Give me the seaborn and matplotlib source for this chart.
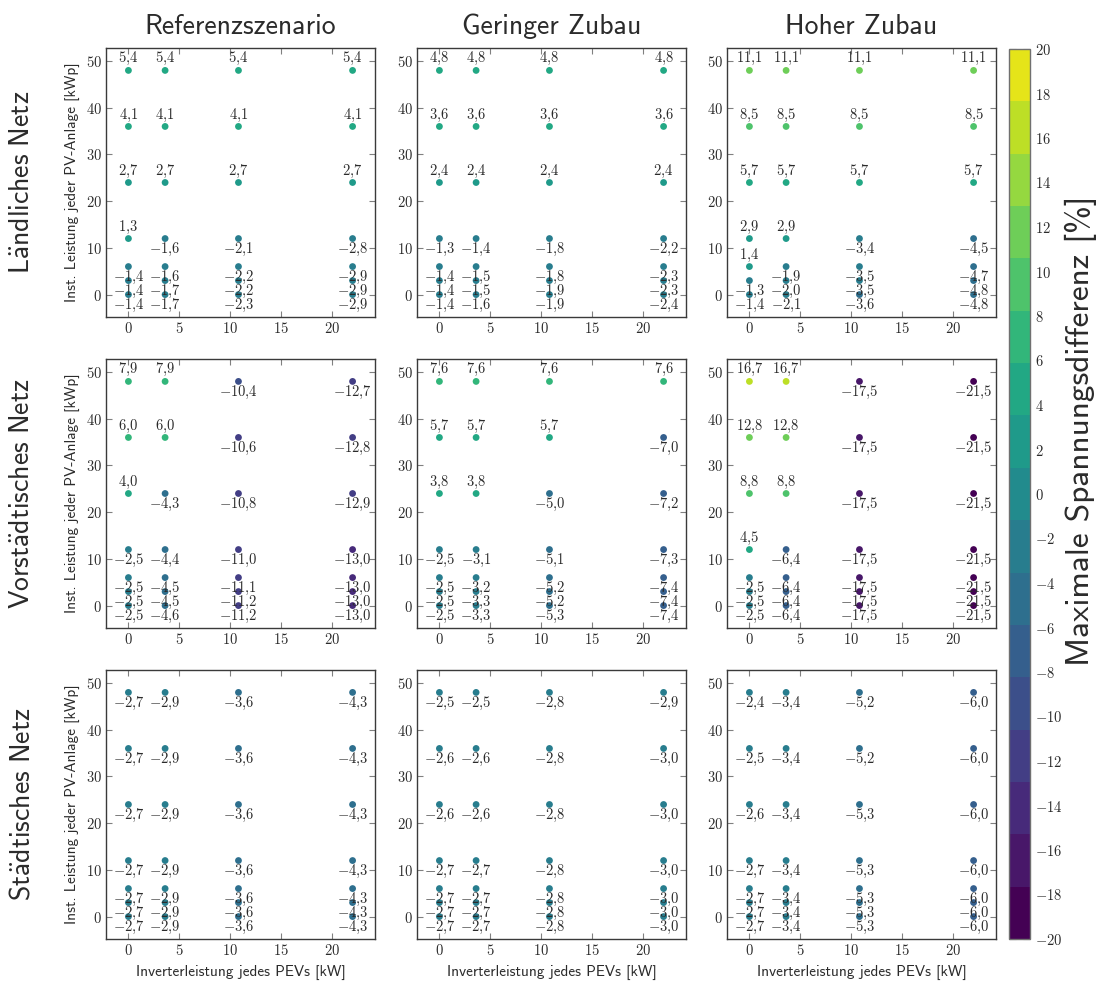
import numpy as np
import pandas as pd
import matplotlib
matplotlib.use("Agg")
import matplotlib.pyplot as plt
from matplotlib.colors import ListedColormap, Normalize
from matplotlib.cm import ScalarMappable
from matplotlib.ticker import FuncFormatter, MultipleLocator
import seaborn as sns

# Inverter power of each PEV [kW] and installed PV power [kWp]
pev_kw = [0, 3.6, 10.8, 22]
pv_kwp = [0, 3, 6, 12, 24, 36, 48]

# Maximum voltage difference [%]; one row per PEV inverter power,
# one entry per installed PV power (ordered as pv_kwp)
laendlich_referenz = [
    [-1.4, -1.4, -1.4, 1.3, 2.7, 4.1, 5.4],
    [-1.7, -1.7, -1.6, -1.6, 2.7, 4.1, 5.4],
    [-2.3, -2.2, -2.2, -2.1, 2.7, 4.1, 5.4],
    [-2.9, -2.9, -2.9, -2.8, 2.7, 4.1, 5.4],
]
laendlich_gering = [
    [-1.4, -1.4, -1.4, -1.3, 2.4, 3.6, 4.8],
    [-1.6, -1.5, -1.5, -1.4, 2.4, 3.6, 4.8],
    [-1.9, -1.9, -1.8, -1.8, 2.4, 3.6, 4.8],
    [-2.4, -2.3, -2.3, -2.2, 2.4, 3.6, 4.8],
]
laendlich_hoch = [
    [-1.4, -1.3, 1.4, 2.9, 5.7, 8.5, 11.1],
    [-2.1, -2.0, -1.9, 2.9, 5.7, 8.5, 11.1],
    [-3.6, -3.5, -3.5, -3.4, 5.7, 8.5, 11.1],
    [-4.8, -4.8, -4.7, -4.5, 5.7, 8.5, 11.1],
]
vorstadt_referenz = [
    [-2.5, -2.5, -2.5, -2.5, 4.0, 6.0, 7.9],
    [-4.6, -4.5, -4.5, -4.4, -4.3, 6.0, 7.9],
    [-11.2, -11.2, -11.1, -11.0, -10.8, -10.6, -10.4],
    [-13.0, -13.0, -13.0, -13.0, -12.9, -12.8, -12.7],
]
vorstadt_gering = [
    [-2.5, -2.5, -2.5, -2.5, 3.8, 5.7, 7.6],
    [-3.3, -3.3, -3.2, -3.1, 3.8, 5.7, 7.6],
    [-5.3, -5.2, -5.2, -5.1, -5.0, 5.7, 7.6],
    [-7.4, -7.4, -7.4, -7.3, -7.2, -7.0, 7.6],
]
vorstadt_hoch = [
    [-2.5, -2.5, -2.5, 4.5, 8.8, 12.8, 16.7],
    [-6.4, -6.4, -6.4, -6.4, 8.8, 12.8, 16.7],
    [-17.5, -17.5, -17.5, -17.5, -17.5, -17.5, -17.5],
    [-21.5, -21.5, -21.5, -21.5, -21.5, -21.5, -21.5],
]
stadt_referenz = [
    [-2.7, -2.7, -2.7, -2.7, -2.7, -2.7, -2.7],
    [-2.9, -2.9, -2.9, -2.9, -2.9, -2.9, -2.9],
    [-3.6, -3.6, -3.6, -3.6, -3.6, -3.6, -3.6],
    [-4.3, -4.3, -4.3, -4.3, -4.3, -4.3, -4.3],
]
stadt_gering = [
    [-2.7, -2.7, -2.7, -2.7, -2.6, -2.6, -2.5],
    [-2.7, -2.7, -2.7, -2.7, -2.6, -2.6, -2.5],
    [-2.8, -2.8, -2.8, -2.8, -2.8, -2.8, -2.8],
    [-3.0, -3.0, -3.0, -3.0, -3.0, -3.0, -2.9],
]
stadt_hoch = [
    [-2.7, -2.7, -2.7, -2.7, -2.6, -2.5, -2.4],
    [-3.4, -3.4, -3.4, -3.4, -3.4, -3.4, -3.4],
    [-5.3, -5.3, -5.3, -5.3, -5.3, -5.2, -5.2],
    [-6.0, -6.0, -6.0, -6.0, -6.0, -6.0, -6.0],
]

scenario_titles = ["Referenzszenario", "Geringer Zubau", "Hoher Zubau"]
# Row titles set in Computer Modern Sans via mathtext, umlauts as accents
grid_titles = [r"$\mathsf{L\ddot{a}ndliches\ Netz}$",
               r"$\mathsf{Vorst\ddot{a}dtisches\ Netz}$",
               r"$\mathsf{St\ddot{a}dtisches\ Netz}$"]
colorbar_label = "Maximale Spannungsdifferenz [%]"
panels = [
    [laendlich_referenz, laendlich_gering, laendlich_hoch],
    [vorstadt_referenz, vorstadt_gering, vorstadt_hoch],
    [stadt_referenz, stadt_gering, stadt_hoch],
]

sns.set_style("ticks")
plt.rcParams["font.family"] = ["cmss10", "DejaVu Sans"]
plt.rcParams["mathtext.fontset"] = "cm"
plt.rcParams["axes.unicode_minus"] = True

text_col = "#2b2b2b"
spine_col = "#3a3a3a"

cmap = ListedColormap(plt.get_cmap("viridis")(np.linspace(0.0, 0.96, 17)))
norm = Normalize(vmin=-20, vmax=20)


def fmt_value(v):
    return "$" + f"{v:.1f}".replace(".", "{,}") + "$"


def fmt_tick(v, _pos=None):
    return f"${v:g}$"


W, H = 1099, 981
fig = plt.figure(figsize=(W / 100, H / 100), dpi=100)

lefts = [106, 417, 727]
tops = [48, 359, 670]
size = 269

for r in range(3):
    for c in range(3):
        ax = fig.add_axes([lefts[c] / W, 1 - (tops[r] + size) / H, size / W, size / H])
        vals = np.array(panels[r][c], dtype=float)
        df = pd.DataFrame({
            "pev": np.repeat(pev_kw, len(pv_kwp)),
            "pv": np.tile(pv_kwp, len(pev_kw)),
            "v": vals.ravel(),
        })
        palette = {v: cmap(norm(v)) for v in df["v"].unique()}
        sns.scatterplot(data=df, x="pev", y="pv", hue="v", palette=palette,
                        legend=False, s=24, linewidth=0, ax=ax, zorder=3)
        for _, row in df.iterrows():
            dy = 8.3 if row["v"] > 0 else -7.8
            ax.annotate(fmt_value(row["v"]), (row["pev"], row["pv"]),
                        xytext=(0, dy), textcoords="offset points",
                        ha="center", va="center", fontsize=10.5,
                        color=text_col, zorder=4)
        ax.set_xlim(-2.2, 24.2)
        ax.set_ylim(-4.8, 52.8)
        ax.xaxis.set_major_locator(MultipleLocator(5))
        ax.yaxis.set_major_locator(MultipleLocator(10))
        ax.xaxis.set_major_formatter(FuncFormatter(fmt_tick))
        ax.yaxis.set_major_formatter(FuncFormatter(fmt_tick))
        ax.tick_params(direction="in", top=True, right=True, length=4,
                       width=0.8, color="#808080", labelsize=10.5,
                       labelcolor=text_col, pad=3)
        for sp in ax.spines.values():
            sp.set_color(spine_col)
            sp.set_linewidth(1.0)
        ax.set_xlabel("")
        ax.set_ylabel("")
        if c == 0:
            ax.set_ylabel("Inst. Leistung jeder PV-Anlage [kWp]", fontsize=11,
                          color=text_col, labelpad=4)
        if r == 2:
            ax.set_xlabel("Inverterleistung jedes PEVs [kW]", fontsize=11,
                          color=text_col, labelpad=5)
        if r == 0:
            ax.set_title(scenario_titles[c], fontsize=20, color=text_col, pad=10)
    fig.text(22 / W, 1 - (tops[r] + size / 2) / H, grid_titles[r], rotation=90,
             ha="center", va="center", fontsize=20, color=text_col)

cax = fig.add_axes([1009 / W, 1 - 939 / H, 21 / W, 890 / H])
cbar = fig.colorbar(ScalarMappable(norm=norm, cmap=cmap), cax=cax)
cbar.set_ticks(np.arange(-20, 21, 2))
cbar.ax.yaxis.set_major_formatter(FuncFormatter(fmt_tick))
cbar.ax.tick_params(direction="in", left=True, right=True, length=5,
                    width=0.8, color="#909090", labelsize=10.5,
                    labelcolor=text_col)
cbar.outline.set_edgecolor("#707070")
cbar.outline.set_linewidth(1.0)
fig.text(1081 / W, 1 - 431 / H, colorbar_label, rotation=90,
         ha="center", va="center", fontsize=24, color=text_col)

fig.savefig("out.png", dpi=100)
